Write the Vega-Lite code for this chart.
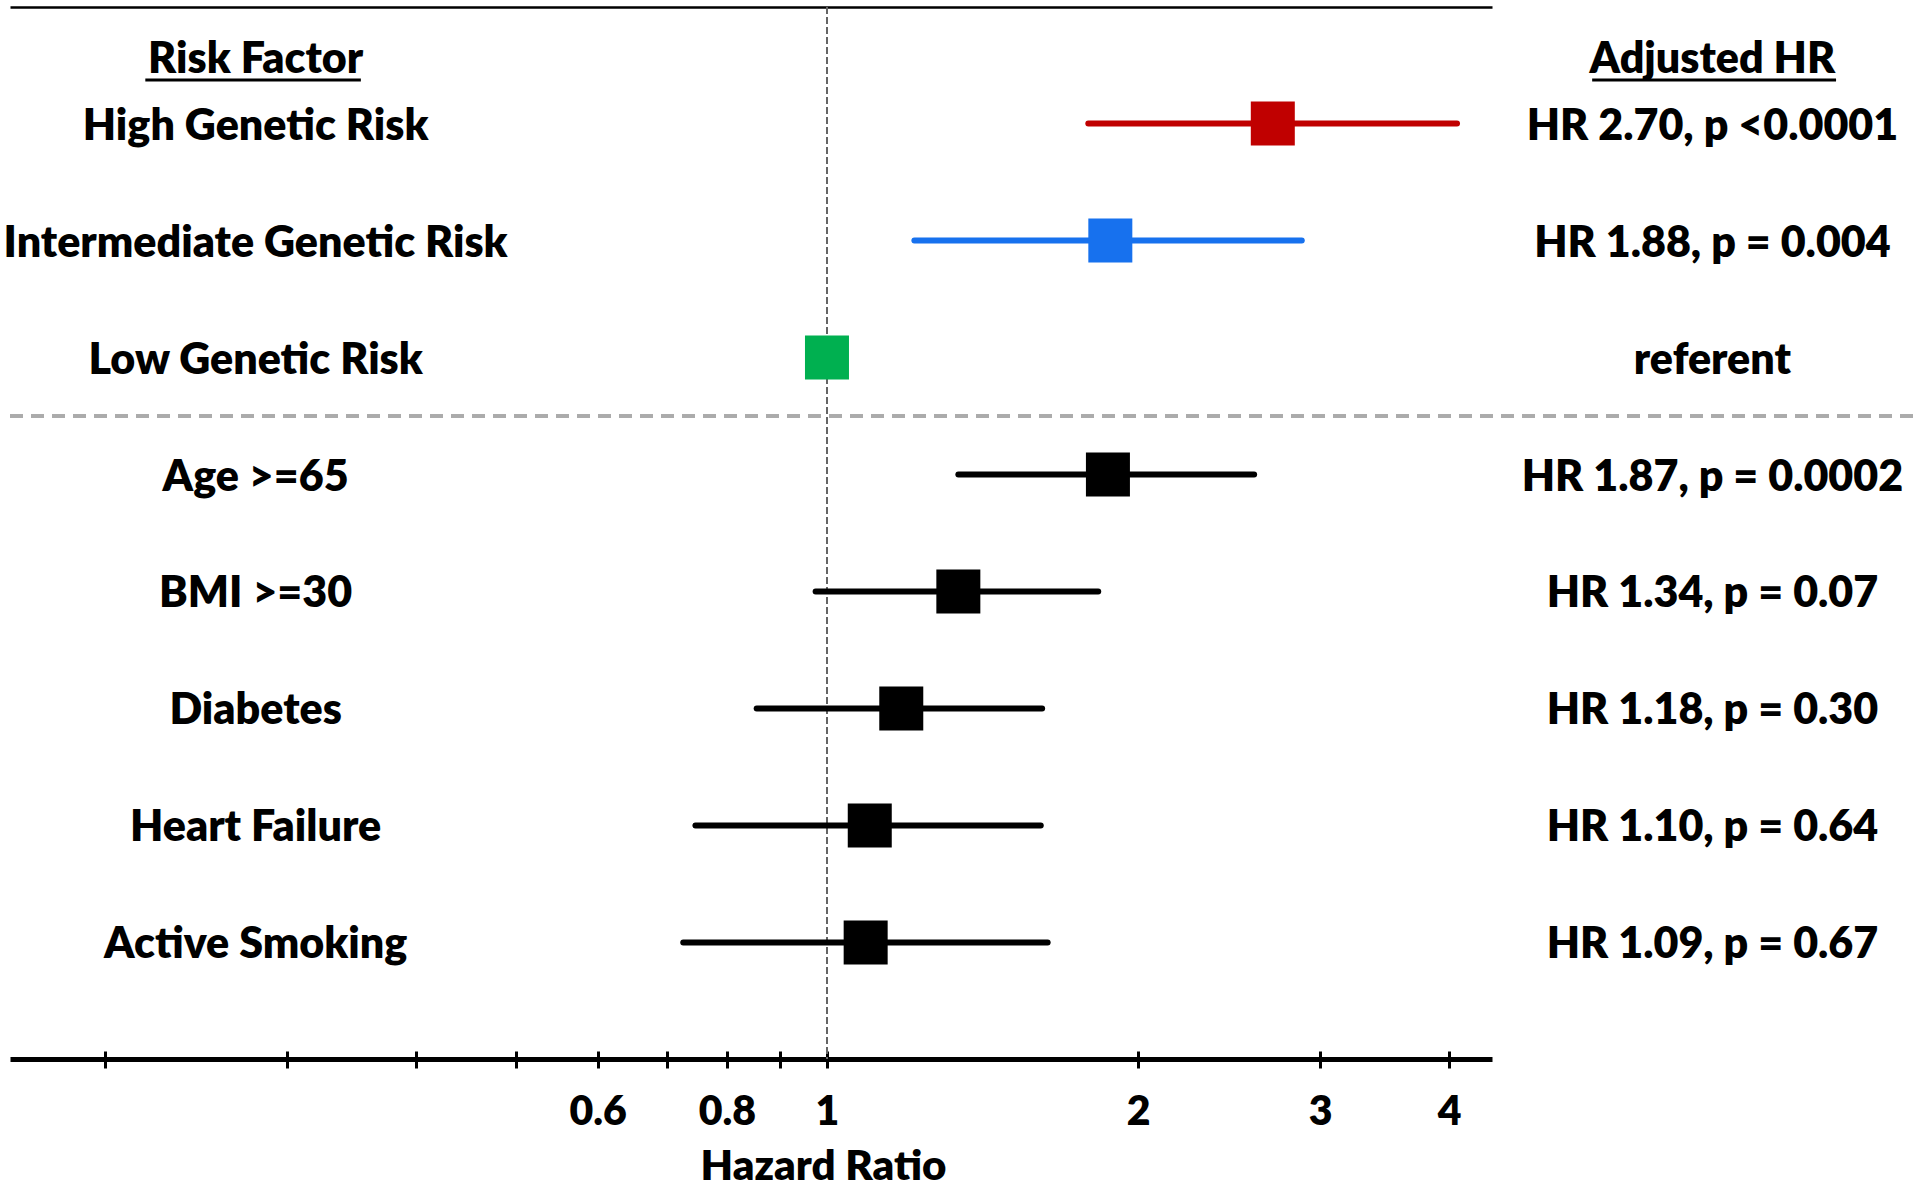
{
  "$schema": "https://vega.github.io/schema/vega-lite/v6.json",
  "autosize": {"type": "none"},
  "width": 1482,
  "height": 1052,
  "padding": {"left": 10, "top": 7, "right": 428, "bottom": 130},
  "background": "white",
  "config": {"view": {"stroke": null}, "font": "Lato"},
  "datasets": {
    "rows": [
      {"factor": "High Genetic Risk", "hr": 2.70, "lo": 1.79, "hi": 4.07, "result": "HR 2.70, p <0.0001"},
      {"factor": "Intermediate Genetic Risk", "hr": 1.88, "lo": 1.215, "hi": 2.88, "result": "HR 1.88, p = 0.004"},
      {"factor": "Low Genetic Risk", "hr": 1.0, "lo": null, "hi": null, "result": "referent"},
      {"factor": "Age >=65", "hr": 1.87, "lo": 1.34, "hi": 2.59, "result": "HR 1.87, p = 0.0002"},
      {"factor": "BMI >=30", "hr": 1.34, "lo": 0.975, "hi": 1.83, "result": "HR 1.34, p = 0.07"},
      {"factor": "Diabetes", "hr": 1.18, "lo": 0.855, "hi": 1.615, "result": "HR 1.18, p = 0.30"},
      {"factor": "Heart Failure", "hr": 1.10, "lo": 0.746, "hi": 1.61, "result": "HR 1.10, p = 0.64"},
      {"factor": "Active Smoking", "hr": 1.09, "lo": 0.726, "hi": 1.635, "result": "HR 1.09, p = 0.67"}
    ],
    "headers": [
      {"left": "Risk Factor", "right": "Adjusted HR", "anchor": "High Genetic Risk"}
    ]
  },
  "data": {"name": "rows"},
  "encoding": {
    "y": {
      "field": "factor",
      "type": "nominal",
      "sort": null,
      "axis": null,
      "scale": {
        "domain": ["High Genetic Risk", "Intermediate Genetic Risk", "Low Genetic Risk", "Age >=65", "BMI >=30", "Diabetes", "Heart Failure", "Active Smoking"],
        "paddingInner": 0,
        "paddingOuter": 0.496
      }
    }
  },
  "layer": [
    {
      "mark": {"type": "rule", "color": "#666666", "strokeWidth": 1.3, "strokeDash": [7, 3]},
      "encoding": {
        "x": {
          "datum": 1,
          "type": "quantitative",
          "scale": {"type": "log", "domain": [0.162, 4.40], "nice": false},
          "axis": {"orient": "top", "labels": false, "ticks": false, "grid": false, "title": null, "domain": true, "domainColor": "#000000", "domainWidth": 2.5}
        },
        "y": null
      }
    },
    {
      "mark": {"type": "rule", "color": "#ABABAB", "strokeWidth": 3, "strokeDash": [13, 8]},
      "encoding": {
        "x": {"datum": 0.162, "type": "quantitative", "axis": null},
        "x2": {"datum": 11.8},
        "y": {"datum": "Age >=65", "bandPosition": 0}
      }
    },
    {
      "transform": [{"filter": "datum.lo != null"}],
      "mark": {"type": "rule", "strokeWidth": 6, "strokeCap": "round"},
      "encoding": {
        "x": {
          "field": "lo",
          "type": "quantitative",
          "axis": {
            "orient": "bottom",
            "values": [0.2, 0.3, 0.4, 0.5, 0.6, 0.7, 0.8, 0.9, 1, 2, 3, 4],
            "format": "~g",
            "labelExpr": "indexof([0.6, 0.8, 1, 2, 3, 4], datum.value) >= 0 ? datum.label : ''",
            "grid": false,
            "domainColor": "#000000",
            "domainWidth": 5,
            "tickColor": "#000000",
            "tickWidth": 3,
            "tickSize": 9,
            "labelFont": "Lato",
            "labelFontWeight": 800,
            "labelFontSize": 41,
            "labelColor": "#000000",
            "labelBaseline": "alphabetic",
            "labelPadding": 56,
            "labelFlush": false,
            "labelOverlap": false,
            "title": "Hazard Ratio",
            "titleFont": "Lato",
            "titleFontWeight": 800,
            "titleFontSize": 42,
            "titleColor": "#000000",
            "titleBaseline": "alphabetic",
            "titleX": 813,
            "titleY": 120
          }
        },
        "x2": {"field": "hi"},
        "color": {
          "field": "factor",
          "type": "nominal",
          "legend": null,
          "scale": {
            "domain": ["High Genetic Risk", "Intermediate Genetic Risk", "Low Genetic Risk", "Age >=65", "BMI >=30", "Diabetes", "Heart Failure", "Active Smoking"],
            "range": ["#C00000", "#1771EE", "#00B050", "#000000", "#000000", "#000000", "#000000", "#000000"]
          }
        }
      }
    },
    {
      "mark": {"type": "square", "size": 1936, "filled": true, "opacity": 1},
      "encoding": {
        "x": {
          "field": "hr",
          "type": "quantitative",
          "axis": {
            "orient": "bottom",
            "values": [0.2, 0.3, 0.4, 0.5, 0.6, 0.7, 0.8, 0.9, 1, 2, 3, 4],
            "labels": false,
            "domain": false,
            "grid": false,
            "title": null,
            "tickColor": "#000000",
            "tickWidth": 3,
            "tickSize": -8
          }
        },
        "color": {"field": "factor", "type": "nominal", "legend": null}
      }
    },
    {
      "mark": {"type": "text", "font": "Lato", "fontWeight": 800, "fontSize": 43, "color": "#000000", "align": "center", "baseline": "alphabetic", "dy": 16},
      "encoding": {
        "x": {"datum": 0.28, "type": "quantitative", "axis": null},
        "text": {"field": "factor"}
      }
    },
    {
      "mark": {"type": "text", "font": "Lato", "fontWeight": 800, "fontSize": 43, "color": "#000000", "align": "center", "baseline": "alphabetic", "dy": 16},
      "encoding": {
        "x": {"datum": 7.19, "type": "quantitative", "axis": null},
        "text": {"field": "result"}
      }
    },
    {
      "data": {"name": "headers"},
      "mark": {"type": "text", "font": "Lato", "fontWeight": 800, "fontSize": 43, "color": "#000000", "align": "center", "baseline": "alphabetic", "dy": -51},
      "encoding": {
        "x": {"datum": 0.28, "type": "quantitative", "axis": null},
        "y": {"field": "anchor", "type": "nominal"},
        "text": {"field": "left"}
      }
    },
    {
      "data": {"name": "headers"},
      "mark": {"type": "text", "font": "Lato", "fontWeight": 800, "fontSize": 43, "color": "#000000", "align": "center", "baseline": "alphabetic", "dy": -51},
      "encoding": {
        "x": {"datum": 7.19, "type": "quantitative", "axis": null},
        "y": {"field": "anchor", "type": "nominal"},
        "text": {"field": "right"}
      }
    },
    {
      "data": {"name": "headers"},
      "mark": {"type": "rule", "color": "#000000", "strokeWidth": 3},
      "encoding": {
        "x": {"datum": 0.219, "type": "quantitative", "axis": null},
        "x2": {"datum": 0.354},
        "y": {"field": "anchor", "type": "nominal"},
        "yOffset": {"value": 15}
      }
    },
    {
      "data": {"name": "headers"},
      "mark": {"type": "rule", "color": "#000000", "strokeWidth": 3},
      "encoding": {
        "x": {"datum": 5.5, "type": "quantitative", "axis": null},
        "x2": {"datum": 9.47},
        "y": {"field": "anchor", "type": "nominal"},
        "yOffset": {"value": 15}
      }
    }
  ]
}
